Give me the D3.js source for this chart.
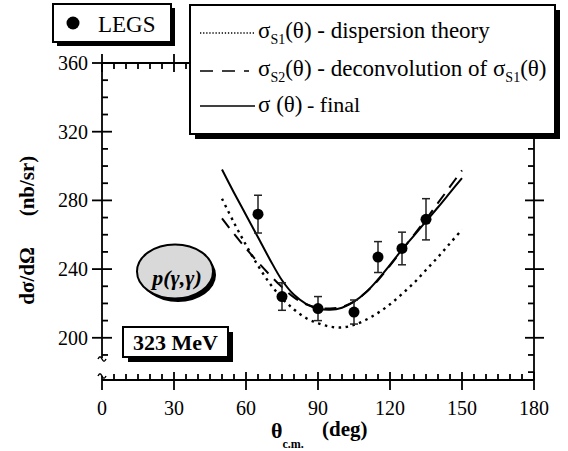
<!DOCTYPE html>
<html>
<head>
<meta charset="utf-8">
<script src="https://cdn.jsdelivr.net/npm/d3@7"></script>
<style>
body { margin: 0; background: #fff; }
text { font-family: 'Times New Roman', Times, 'Liberation Serif', 'DejaVu Serif', serif; }
</style>
</head>
<body>
<svg width="568" height="451"></svg>
<script>
// LEGS data points
var angles = [65, 75, 90, 105, 115, 125, 135];
var cross = [272, 224, 217, 215, 247, 252, 269];
var errs = [11, 8, 7, 7, 9, 9.5, 12];

// theory curves, sampled every 5 deg
var curveAngles = [50, 55, 60, 65, 70, 75, 80, 85, 90, 95, 100, 105, 110, 115, 120, 125, 130, 135, 140, 145, 150];
var finalCurve = [298, 284.5, 271.5, 258.5, 245.5, 233.5, 225, 219.8, 217, 216.3, 217.5, 221, 226.5, 234, 242.5, 251.3, 259.5, 267.8, 276, 284.5, 293];
var dispersion = [281, 267, 254, 242, 231.5, 223, 216.5, 211.5, 208.5, 206.5, 206, 207.5, 210.5, 214.5, 219.5, 225.5, 232, 239.5, 247, 255, 263];
var deconv = [269.5, 260.5, 252, 244, 236.5, 229.5, 223.5, 219.5, 217.5, 217, 218, 221, 226.5, 233.5, 242, 251, 260, 269, 278.5, 288, 297.5];

var xTicks = [0, 30, 60, 90, 120, 150, 180];
var yTicks = [200, 240, 280, 320, 360];

var svg = d3.select("svg");

var x = d3.scaleLinear().domain([0, 180]).range([102, 534]);
var y = d3.scaleLinear().domain([176, 360]).range([379, 63]);

var xAxisY = 380;

// axes frame
var ax = svg.append("g").attr("stroke", "#000").attr("stroke-width", 1.8).attr("fill", "none");

// left axis (broken at bottom)
ax.append("line").attr("x1", x(0)).attr("x2", x(0)).attr("y1", y(360)).attr("y2", 358);
ax.append("path").attr("d", "M98,359 c1.5,-3 2.5,-3 4,0 s2.5,3 4,0").attr("stroke-width", 1.5);
ax.append("path").attr("d", "M98,376 c1.5,-3 2.5,-3 4,0 s2.5,3 4,0").attr("stroke-width", 1.5);
ax.append("line").attr("x1", x(0)).attr("x2", x(0)).attr("y1", 376).attr("y2", 390);

// right axis
ax.append("line").attr("x1", x(180)).attr("x2", x(180)).attr("y1", y(360)).attr("y2", xAxisY);
// bottom + top
ax.append("line").attr("x1", x(0)).attr("x2", x(180)).attr("y1", xAxisY).attr("y2", xAxisY);
ax.append("line").attr("x1", x(0)).attr("x2", x(180)).attr("y1", y(360)).attr("y2", y(360));

var xMinor = d3.range(0, 181, 5).filter(function(d) { return d % 30 != 0; });
var yMinor = d3.range(180, 360, 10).filter(function(d) { return d % 40 != 0; });

// bottom ticks
ax.selectAll(".xb").data(xTicks.slice(1)).enter().append("line")
    .attr("x1", x).attr("x2", x).attr("y1", xAxisY - 8).attr("y2", xAxisY + 10);
ax.selectAll(".xbm").data(xMinor).enter().append("line")
    .attr("x1", x).attr("x2", x).attr("y1", xAxisY - 6).attr("y2", xAxisY);
// top ticks
ax.selectAll(".xt").data(xTicks).enter().append("line")
    .attr("x1", x).attr("x2", x).attr("y1", y(360) - 9).attr("y2", y(360) + 9);
ax.selectAll(".xtm").data(xMinor).enter().append("line")
    .attr("x1", x).attr("x2", x).attr("y1", y(360)).attr("y2", y(360) + 6);
// left ticks
ax.selectAll(".yl").data(yTicks).enter().append("line")
    .attr("x1", x(0) - 10).attr("x2", x(0) + 10).attr("y1", y).attr("y2", y);
ax.selectAll(".ylm").data(yMinor.filter(function(d) { return d > 185; })).enter().append("line")
    .attr("x1", x(0)).attr("x2", x(0) + 6).attr("y1", y).attr("y2", y);
// right ticks
ax.selectAll(".yr").data(yTicks).enter().append("line")
    .attr("x1", x(180) - 9).attr("x2", x(180) + 10).attr("y1", y).attr("y2", y);
ax.selectAll(".yrm").data(yMinor).enter().append("line")
    .attr("x1", x(180) - 6).attr("x2", x(180)).attr("y1", y).attr("y2", y);

// tick labels
svg.selectAll(".xl").data(xTicks).enter().append("text")
    .attr("x", x).attr("y", 415).attr("text-anchor", "middle")
    .attr("font-size", 20).text(function(d) { return d; });
svg.selectAll(".ylab").data(yTicks).enter().append("text")
    .attr("x", 88).attr("y", y).attr("dy", "0.35em").attr("text-anchor", "end")
    .attr("font-size", 20).text(function(d) { return d; });

// axis titles
var yt = svg.append("g").attr("transform", "translate(34,231) rotate(-90)")
    .attr("font-weight", "bold").attr("font-size", 21).attr("text-anchor", "middle");
yt.append("text").attr("x", -45).text("dσ/dΩ");
yt.append("text").attr("x", 45).text("(nb/sr)");

var xt = svg.append("text").attr("y", 438).attr("font-weight", "bold").attr("font-size", 22);
xt.append("tspan").attr("x", 271).text("θ");
xt.append("tspan").attr("dy", 10).attr("font-size", 12).text("c.m.");
svg.append("text").attr("x", 322).attr("y", 436).attr("font-weight", "bold").attr("font-size", 21).text("(deg)");

// curves
var line = d3.line()
    .x(function(d, i) { return x(curveAngles[i]); })
    .y(function(d) { return y(d); })
    .curve(d3.curveCatmullRom);

svg.append("path").attr("d", line(dispersion)).attr("fill", "none").attr("stroke", "#000")
    .attr("stroke-width", 2.4).attr("stroke-dasharray", "2.5,4.5");
svg.append("path").attr("d", line(deconv)).attr("fill", "none").attr("stroke", "#000")
    .attr("stroke-width", 2).attr("stroke-dasharray", "12,8");
svg.append("path").attr("d", line(finalCurve)).attr("fill", "none").attr("stroke", "#000")
    .attr("stroke-width", 2);

// data points with error bars
var pts = svg.append("g").selectAll("g").data(angles).enter().append("g");
pts.append("line").attr("x1", x).attr("x2", x)
    .attr("y1", function(d, i) { return y(cross[i] + errs[i]); })
    .attr("y2", function(d, i) { return y(cross[i] - errs[i]); })
    .attr("stroke", "#222").attr("stroke-width", 1.5);
pts.append("line").attr("x1", function(d) { return x(d) - 4; }).attr("x2", function(d) { return x(d) + 4; })
    .attr("y1", function(d, i) { return y(cross[i] + errs[i]); })
    .attr("y2", function(d, i) { return y(cross[i] + errs[i]); })
    .attr("stroke", "#222").attr("stroke-width", 1.5);
pts.append("line").attr("x1", function(d) { return x(d) - 4; }).attr("x2", function(d) { return x(d) + 4; })
    .attr("y1", function(d, i) { return y(cross[i] - errs[i]); })
    .attr("y2", function(d, i) { return y(cross[i] - errs[i]); })
    .attr("stroke", "#222").attr("stroke-width", 1.5);
pts.append("circle").attr("cx", x).attr("cy", function(d, i) { return y(cross[i]); })
    .attr("r", 5.5).attr("fill", "#000");

// shadowed boxes
function box(x0, y0, w, h, off) {
    svg.append("rect").attr("x", x0 + off).attr("y", y0 + off).attr("width", w).attr("height", h).attr("fill", "#000");
    svg.append("rect").attr("x", x0).attr("y", y0).attr("width", w).attr("height", h)
        .attr("fill", "#fff").attr("stroke", "#000").attr("stroke-width", 2);
}

// LEGS legend
box(53, 4, 118, 38, 4);
svg.append("circle").attr("cx", 73).attr("cy", 23).attr("r", 6.5).attr("fill", "#000");
svg.append("text").attr("x", 98).attr("y", 32).attr("font-size", 23).text("LEGS");

// curve legend
box(190, 5, 365, 129, 5);
var leg = svg.append("g");
leg.append("line").attr("x1", 200).attr("x2", 255).attr("y1", 33).attr("y2", 33)
    .attr("stroke", "#000").attr("stroke-width", 1.4).attr("stroke-dasharray", "1.3,1.8");
leg.append("line").attr("x1", 200).attr("x2", 249).attr("y1", 71).attr("y2", 71)
    .attr("stroke", "#000").attr("stroke-width", 1.6).attr("stroke-dasharray", "13,9");
leg.append("line").attr("x1", 200).attr("x2", 255).attr("y1", 106).attr("y2", 106)
    .attr("stroke", "#000").attr("stroke-width", 1.6);

var t1 = leg.append("text").attr("x", 258).attr("y", 38).attr("font-size", 23);
t1.append("tspan").text("σ");
t1.append("tspan").attr("dy", 6).attr("font-size", 14).text("S1");
t1.append("tspan").attr("dy", -6).text("(θ) - dispersion theory");

var t2 = leg.append("text").attr("x", 258).attr("y", 76).attr("font-size", 23);
t2.append("tspan").text("σ");
t2.append("tspan").attr("dy", 6).attr("font-size", 14).text("S2");
t2.append("tspan").attr("dy", -6).text("(θ) - deconvolution of σ");
t2.append("tspan").attr("dy", 6).attr("font-size", 14).text("S1");
t2.append("tspan").attr("dy", -6).text("(θ)");

leg.append("text").attr("x", 258).attr("y", 112).attr("font-size", 23).text("σ (θ)");
leg.append("text").attr("x", 307).attr("y", 112).attr("font-size", 22).text("- final");

// reaction label
svg.append("ellipse").attr("cx", 178).attr("cy", 275).attr("rx", 38).attr("ry", 27).attr("fill", "#000");
svg.append("ellipse").attr("cx", 175).attr("cy", 271.5).attr("rx", 38).attr("ry", 27)
    .attr("fill", "#d9d9d9").attr("stroke", "#000").attr("stroke-width", 2);
svg.append("text").attr("x", 177).attr("y", 285).attr("text-anchor", "middle")
    .attr("font-size", 22).attr("font-style", "italic").attr("font-weight", "bold").text("p(γ,γ)");

// energy label
box(123, 327, 105, 30, 5);
svg.append("text").attr("x", 175.5).attr("y", 350).attr("text-anchor", "middle")
    .attr("font-size", 22).attr("font-weight", "bold").text("323 MeV");
</script>
</body>
</html>
